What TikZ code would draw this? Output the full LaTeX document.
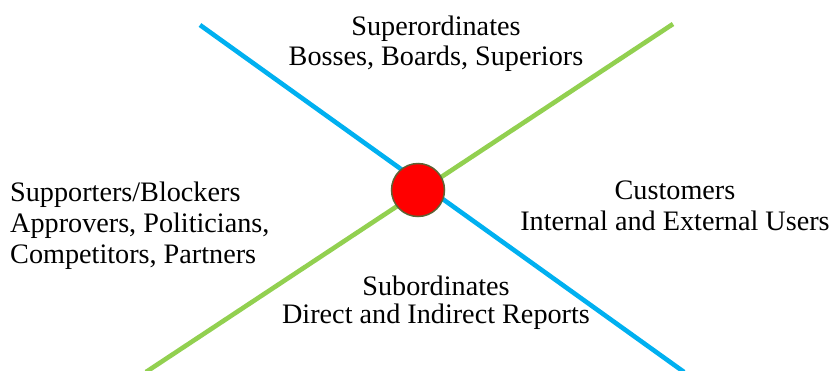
\documentclass[tikz,border=0pt]{standalone}
\usepackage{fontspec}
\setmainfont{Liberation Serif}
\definecolor{axisblue}{RGB}{0,176,240}
\definecolor{axisgreen}{RGB}{146,208,80}
\definecolor{hubedge}{RGB}{94,98,52}

\begin{document}
\begin{tikzpicture}[x=1pt,y=-1pt,
  who/.style={font=\fontsize{28.2}{31}\selectfont,inner sep=0pt},
  axis/.style={line width=4.6pt}]
 \useasboundingbox (0,0) rectangle (836,370);
 % the two axes
 \coordinate (blueTop) at (200,25);
 \coordinate (blueEnd) at (684,372);
 \coordinate (greenTop) at (673,24);
 \coordinate (greenEnd) at (146,372);
 \draw[axis,axisblue](blueTop)--(blueEnd);
 \draw[axis,axisgreen](greenEnd)--(greenTop);
 % the hub
 \node[circle,fill=red,draw=hubedge,line width=1.5pt,minimum size=53pt,inner sep=0pt] (hub) at (418,190) {};
 % the four groups
 \node[who,align=center] (bosses) at (436,44) {Superordinates\\[-1pt]Bosses, Boards, Superiors};
 \node[who,align=left,anchor=west] (allies) at (10,226) {Supporters/Blockers\\Approvers, Politicians,\\Competitors, Partners};
 \node[who,align=center] (clients) at (675,206) {Customers\\Internal and External Users};
 \node[who,align=center] (reports) at (436,303) {Subordinates\\[-3pt]Direct and Indirect Reports};
\end{tikzpicture}
\end{document}
